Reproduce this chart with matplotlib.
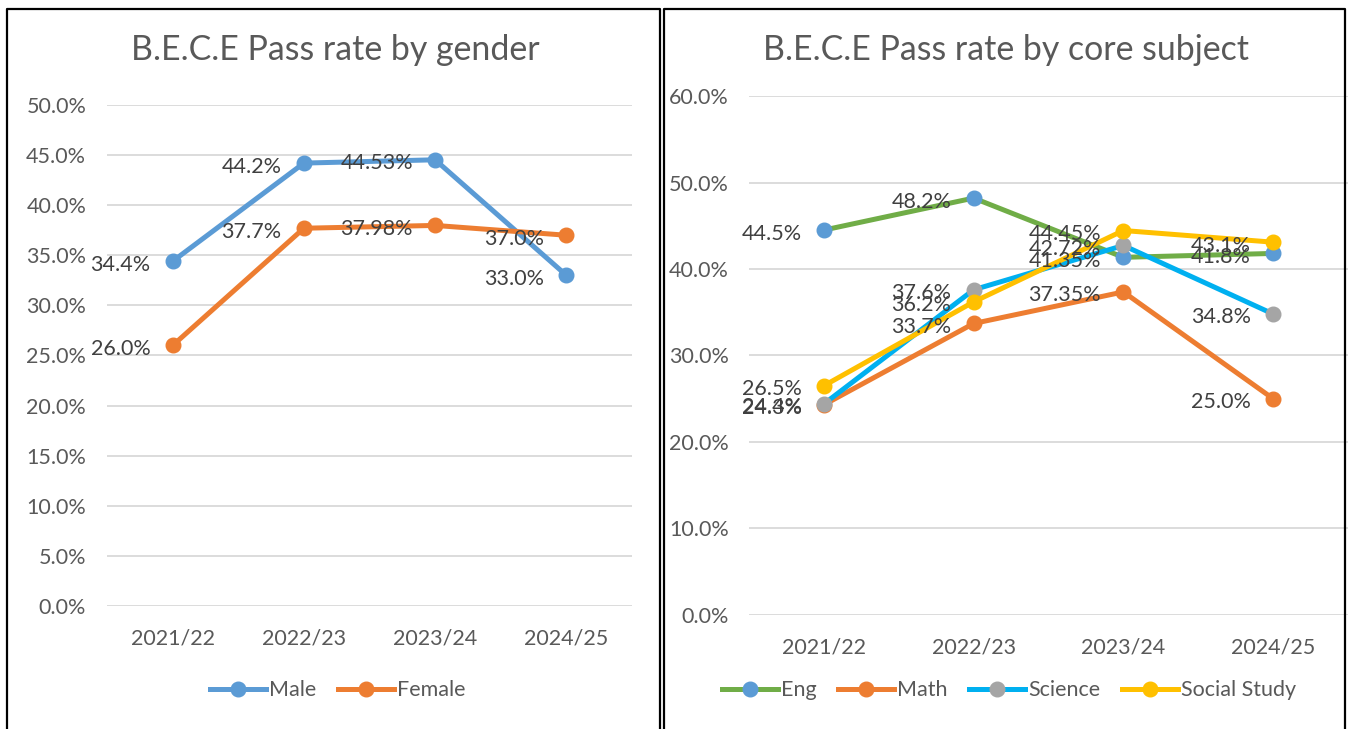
import matplotlib
matplotlib.use("Agg")
import matplotlib.pyplot as plt
from matplotlib.lines import Line2D
from matplotlib.ticker import FuncFormatter, MultipleLocator
from matplotlib.transforms import offset_copy

plt.rcParams["font.family"] = ["Lato", "DejaVu Sans"]

years = ["2021/22", "2022/23", "2023/24", "2024/25"]

# gender chart
male = [34.4, 44.2, 44.53, 33.0]
female = [26.0, 37.7, 37.98, 37.0]
male_labels = ["34.4%", "44.2%", "44.53%", "33.0%"]
female_labels = ["26.0%", "37.7%", "37.98%", "37.0%"]

# subject chart
eng = [44.5, 48.2, 41.35, 41.8]
math_ = [24.3, 33.7, 37.35, 25.0]
science = [24.4, 37.6, 42.72, 34.8]
social = [26.5, 36.2, 44.45, 43.1]
eng_labels = ["44.5%", "48.2%", "41.35%", "41.8%"]
math_labels = ["24.3%", "33.7%", "37.35%", "25.0%"]
science_labels = ["24.4%", "37.6%", "42.72%", "34.8%"]
social_labels = ["26.5%", "36.2%", "44.45%", "43.1%"]

BLUE = "#5B9BD5"
ORANGE = "#ED7D31"
GRAY = "#A5A5A5"
GOLD = "#FFC000"
GREEN = "#70AD47"
CYAN = "#00B0F0"
TXT = "#595959"
LBL = "#404040"
FS = 15.5

fig = plt.figure(figsize=(13.51, 7.29), dpi=100)


def style_axes(ax, ymax, step, ypad):
    ax.set_xlim(-0.5, len(years) - 0.5)
    ax.set_ylim(0, ymax)
    ax.yaxis.set_major_locator(MultipleLocator(step))
    ax.yaxis.set_major_formatter(FuncFormatter(lambda v, p: f"{v:.1f}%"))
    ax.set_xticks(range(len(years)))
    ax.set_xticklabels(years)
    ax.grid(axis="y", color="#D9D9D9", linewidth=1.3)
    ax.set_axisbelow(True)
    for s in ax.spines.values():
        s.set_visible(False)
    ax.tick_params(length=0, labelsize=FS, colors=TXT)
    ax.tick_params(axis="y", pad=ypad)
    ax.tick_params(axis="x", pad=16)


def series(ax, vals, labels, line_c, mark_c):
    x = range(len(vals))
    ax.plot(x, vals, color=line_c, linewidth=3.6, marker="o", markersize=10.5,
            markerfacecolor=mark_c, markeredgecolor=mark_c, zorder=3)
    tr = offset_copy(ax.transData, fig=fig, x=-16, y=-2.5, units="points")
    for xi, v, t in zip(x, vals, labels):
        ax.text(xi, v, t, transform=tr, ha="right", va="center",
                fontsize=FS, color=LBL, zorder=4)


ax1 = fig.add_axes([0.0792, 0.1687, 0.3886, 0.6873])
style_axes(ax1, 50, 5, 15)
series(ax1, male, male_labels, BLUE, BLUE)
series(ax1, female, female_labels, ORANGE, ORANGE)

ax2 = fig.add_axes([0.5544, 0.1564, 0.4434, 0.7119])
style_axes(ax2, 60, 10, 14.5)
series(ax2, eng, eng_labels, GREEN, BLUE)
series(ax2, math_, math_labels, ORANGE, ORANGE)
series(ax2, science, science_labels, CYAN, GRAY)
series(ax2, social, social_labels, GOLD, GOLD)

fig.text(335 / 1351, 1 - 50 / 729, "B.E.C.E Pass rate by gender",
         fontsize=24.4, color=TXT, ha="center", va="center")
fig.text(1006 / 1351, 1 - 50 / 729, "B.E.C.E Pass rate by core subject",
         fontsize=24.4, color=TXT, ha="center", va="center")


def handle(line_c, mark_c):
    return Line2D([], [], color=line_c, linewidth=3.6, marker="o", markersize=10.5,
                  markerfacecolor=mark_c, markeredgecolor=mark_c)


leg_kw = dict(loc="center", frameon=False, ncol=4, fontsize=FS, handlelength=2.6,
              handletextpad=0.15, columnspacing=1.0, labelcolor=TXT)
fig.legend([handle(BLUE, BLUE), handle(ORANGE, ORANGE)], ["Male", "Female"],
           bbox_to_anchor=(0.250, 0.053), **leg_kw)
fig.legend([handle(GREEN, BLUE), handle(ORANGE, ORANGE), handle(CYAN, GRAY),
            handle(GOLD, GOLD)], ["Eng", "Math", "Science", "Social Study"],
           bbox_to_anchor=(0.747, 0.053), **leg_kw)

# panel frames (top and sides only, bottom is cropped)
W, H = 1351, 729
for x0, x1 in [(7, 660), (664, 1345)]:
    xs = [x0 / W, x0 / W, x1 / W, x1 / W]
    ys = [0, 1 - 9 / H, 1 - 9 / H, 0]
    fig.add_artist(Line2D(xs, ys, color="black", linewidth=1.6,
                          transform=fig.transFigure))

fig.savefig("out.png", dpi=100)
